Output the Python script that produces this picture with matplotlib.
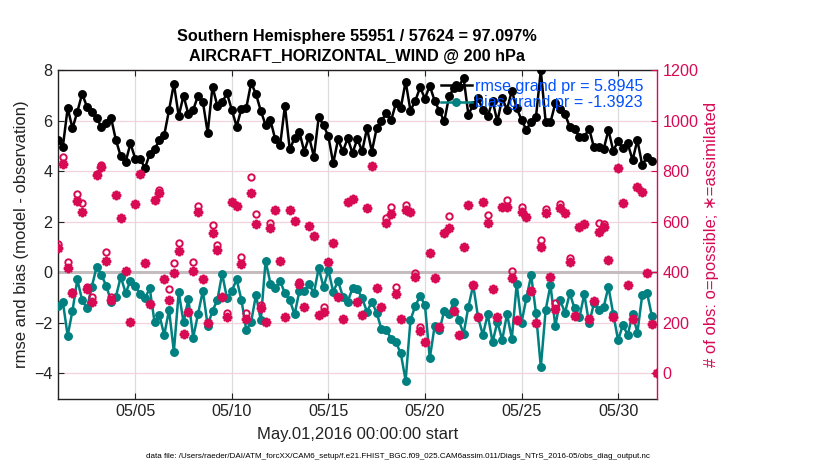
import numpy as np
import pandas as pd
import matplotlib
matplotlib.use("Agg")
import matplotlib.pyplot as plt
import matplotlib.dates as mdates

plt.rcParams['font.family'] = ['Liberation Sans', 'DejaVu Sans']

# ---------------- data ----------------
times = pd.date_range('2016-05-01 00:00', periods=125, freq='6h')

rmse = [5.24, 4.97, 6.51, 5.71, 6.36, 7.08, 6.56, 6.37, 6.11, 5.77, 5.93, 6.11, 5.24, 4.60, 4.37, 5.11,
        4.51, 4.51, 4.13, 4.69, 4.87, 5.25, 5.44, 6.43, 7.47, 6.20, 7.00, 6.27, 6.44, 7.00, 6.77, 5.53,
        7.36, 6.60, 6.75, 7.09, 6.44, 5.78, 6.49, 6.52, 7.51, 7.07, 6.40, 5.84, 6.03, 5.27, 5.03, 6.60,
        4.87, 5.33, 5.56, 4.79, 5.37, 4.58, 6.15, 5.83, 5.39, 4.32, 5.27, 4.80, 5.31, 4.73, 5.29, 4.80,
        5.71, 4.79, 5.71, 6.00, 6.31, 6.03, 6.71, 6.52, 7.56, 6.41, 6.80, 7.33, 6.89, 7.40, 6.80, 6.40,
        5.98, 6.98, 7.31, 7.35, 7.71, 6.25, 6.65, 6.90, 6.45, 6.18, 6.80, 5.98, 6.90, 6.45, 7.20, 6.50,
        6.05, 5.65, 5.97, 6.17, 8.00, 5.97, 5.95, 6.70, 6.46, 6.27, 5.77, 5.70, 5.35, 5.37, 5.70, 4.95,
        4.95, 4.87, 5.64, 4.82, 5.20, 4.91, 5.11, 4.45, 5.24, 4.25, 4.58, 4.41]

bias = [-1.32, -1.16, -2.51, -1.52, -0.28, -1.10, -1.43, -0.57, 0.22, -0.11, -0.53, -1.16, -0.96, -0.17,
        -0.81, -0.34, -0.54, -0.86, -1.03, -0.63, -1.98, -1.69, -2.48, -1.49, -3.14, -0.77, -1.98, -1.06,
        -2.58, -1.65, -0.73, -2.11, -1.52, -1.10, -0.05, -1.03, -0.73, -0.28, -1.10, -2.29, -1.96, -0.90,
        -1.89, 0.46, -0.44, -0.63, -0.34, -0.83, -1.10, -1.66, -0.74, -0.74, -0.46, -0.83, 0.18, -0.59,
        0.09, -0.77, -0.34, -0.96, -1.16, -0.63, -0.67, -1.03, -1.56, -1.16, -1.60, -2.26, -2.29, -2.62,
        -2.77, -3.21, -4.29, -1.89, -1.33, -0.94, -1.29, -3.41, -2.13, -2.29, -1.52, -1.65, -1.16, -1.89,
        -2.44, -1.36, -0.50, -1.78, -2.48, -1.65, -2.77, -1.96, -2.68, -1.65, -2.62, -0.46, -1.99, -1.03,
        -0.11, -1.62, -3.76, -1.49, -0.50, -2.13, -1.10, -1.60, -0.83, -1.43, -1.78, -0.86, -2.02, -1.23,
        -1.47, -1.39, -0.57, -1.65, -2.68, -2.09, -2.48, -1.65, -2.39, -0.90, -0.81, -1.72]

n_possible = [512, 856, 442, 323, 709, 674, 343, 304, 790, 826, 482, 304, 707, 614, 405, 205, 671, 789,
              436, 275, 685, 728, 374, 334, 436, 518, 156, 244, 440, 663, 374, 198, 588, 508, 304, 238,
              680, 662, 460, 240, 777, 630, 271, 205, 594, 647, 446, 222, 647, 604, 363, 264, 585, 544,
              231, 261, 442, 518, 301, 215, 680, 690, 284, 231, 656, 822, 337, 261, 614, 660, 343, 215,
              667, 641, 396, 185, 125, 478, 376, 185, 557, 623, 248, 152, 499, 667, 350, 224, 680, 627,
              333, 224, 660, 687, 407, 211, 660, 621, 328, 201, 528, 650, 383, 277, 671, 634, 456, 227,
              581, 590, 214, 287, 594, 592, 449, 224, 812, 676, 350, 214, 740, 720, 399, 194, 0]

n_used = [495, 830, 418, 317, 683, 638, 334, 281, 785, 816, 445, 290, 707, 614, 405, 205, 671, 789,
          436, 275, 685, 715, 374, 290, 399, 486, 156, 244, 407, 640, 374, 198, 557, 488, 304, 224,
          680, 662, 432, 214, 713, 590, 258, 205, 575, 647, 446, 222, 647, 604, 354, 264, 585, 544,
          231, 244, 442, 518, 301, 215, 680, 690, 284, 231, 656, 822, 337, 261, 594, 631, 314, 215,
          647, 641, 380, 169, 125, 478, 376, 185, 557, 575, 248, 152, 499, 667, 350, 224, 680, 597,
          333, 224, 660, 660, 376, 211, 640, 621, 328, 201, 502, 637, 383, 254, 654, 634, 442, 227,
          581, 590, 214, 287, 560, 578, 449, 224, 812, 676, 350, 214, 740, 720, 399, 194, 0]

xtick_days = [5, 10, 15, 20, 25, 30]
left_ticks = [-4, -2, 0, 2, 4, 6, 8]
right_ticks = [0, 200, 400, 600, 800, 1000, 1200]

title1 = 'Southern Hemisphere 55951 / 57624 = 97.097%'
title2 = 'AIRCRAFT_HORIZONTAL_WIND @ 200 hPa'
rmse_label = 'rmse grand pr = 5.8945'
bias_label = 'bias grand pr = -1.3923'
xlabel = 'May.01,2016 00:00:00 start'
ylabel_left = 'rmse and bias (model - observation)'
ylabel_right = '# of obs: o=possible; \u2217=assimilated'
datafile = ('data file: /Users/raeder/DAI/ATM_forcXX/CAM6_setup/f.e21.FHIST_BGC.f09_025.'
            'CAM6assim.011/Diags_NTrS_2016-05/obs_diag_output.nc')

# ---------------- style ----------------
crimson = '#D70A53'
teal = '#008080'
legend_blue = '#0050ff'
FS = 11.6

fig = plt.figure(figsize=(8.3, 4.7), dpi=100)
ax = fig.add_axes([58 / 830, 1 - 398.6 / 470, (656.7 - 58) / 830, (398.6 - 70.5) / 470])

t_stats = times[:len(rmse)]
ax.axhline(0, color='#c4bcbf', lw=2.2, zorder=1)
l1, = ax.plot(t_stats, rmse, '-o', color='black', lw=1.8, ms=5.4, zorder=3, label=rmse_label)
l2, = ax.plot(t_stats, bias, '-o', color=teal, lw=1.8, ms=5.4, mec=teal, zorder=3, label=bias_label)

ax.set_xlim(times[0], pd.Timestamp('2016-06-01 00:00'))
ax.set_ylim(-5, 8)
ax.set_yticks(left_ticks)
ax.xaxis.set_major_locator(mdates.DayLocator(bymonthday=xtick_days))
ax.xaxis.set_major_formatter(mdates.DateFormatter('%m/%d'))
ax.tick_params(axis='both', direction='in', length=4, width=0.8, labelsize=FS, pad=4,
               colors='#222222', labelcolor='#222222')
ax.tick_params(axis='x', top=True, bottom=True)
ax.grid(axis='x', color='#dcdcdc', lw=0.9)
ax.grid(axis='y', color='#f2d3dd', lw=0.9)
ax.set_axisbelow(True)
for s in ['left', 'bottom', 'top']:
    ax.spines[s].set_color('#222222')
    ax.spines[s].set_linewidth(1.0)
ax.spines['right'].set_visible(False)

ax2 = ax.twinx()
ax2.plot(times, n_used, linestyle='none', marker=(8, 2, 0), ms=6.8, color=crimson, mec=crimson,
         mew=1.7, zorder=4)
ax2.plot(times, n_possible, linestyle='none', marker='o', ms=4.6, mfc='none', mec=crimson,
         mew=1.4, zorder=4)
ax2.set_ylim(-100, 1200)
ax2.set_yticks(right_ticks)
ax2.tick_params(axis='y', direction='in', length=4, width=0.8, labelsize=FS, pad=4,
                colors=crimson, labelcolor=crimson)
for s in ['left', 'bottom', 'top']:
    ax2.spines[s].set_visible(False)
ax2.spines['right'].set_color(crimson)
ax2.spines['right'].set_linewidth(1.0)

leg = ax.legend(handles=[l1, l2], loc='upper left', bbox_to_anchor=(0.640, 0.975),
                frameon=False, fontsize=FS, labelcolor=legend_blue, handlelength=1.9,
                handletextpad=0.2, labelspacing=0.1, borderpad=0, borderaxespad=0, numpoints=1)
leg.set_zorder(10)

fig.text(357.3 / 830, 1 - 37 / 470, title1, ha='center', va='center', fontsize=11.7,
         fontweight='bold')
fig.text(357.3 / 830, 1 - 56 / 470, title2, ha='center', va='center', fontsize=11.7,
         fontweight='bold')
fig.text(357.3 / 830, 1 - 435 / 470, xlabel, ha='center', va='center', fontsize=12, color='#222222')
fig.text(22 / 830, 1 - 234.5 / 470, ylabel_left, ha='center', va='center', rotation=90,
         fontsize=12, color='#222222')
fig.text(711 / 830, 1 - 234 / 470, ylabel_right, ha='center', va='center', rotation=90,
         fontsize=12, color=crimson)
fig.text(398 / 830, 1 - 457 / 470, datafile, ha='center', va='center', fontsize=5.8, color='black')

fig.savefig('out.png', dpi=100)
